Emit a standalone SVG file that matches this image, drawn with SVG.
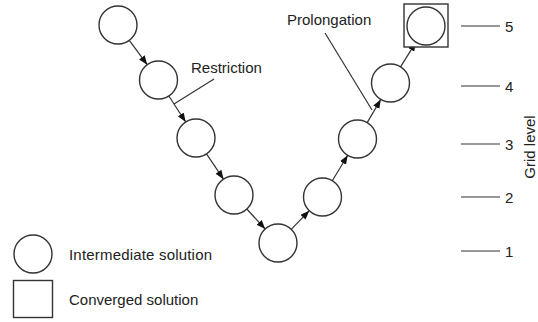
<svg xmlns="http://www.w3.org/2000/svg" width="538" height="322" viewBox="0 0 538 322">
<style>
.n{fill:#fff;stroke:#333;stroke-width:1.4}
.c{stroke:#333;stroke-width:1.2;fill:none}
.a{marker-end:url(#ah)}
.t{font-family:"Liberation Sans",Arial,sans-serif;font-size:15px;fill:#222}
</style>
<defs>
<marker id="ah" markerUnits="userSpaceOnUse" markerWidth="10" markerHeight="8" refX="9" refY="3.5" orient="auto">
<path d="M0,0 L9,3.5 L0,7 z" fill="#111"/>
</marker>
</defs>
<rect width="538" height="322" fill="#fff"/>
<g id="connectors">
<line class="c a" x1="129.3" y1="40.3" x2="147.2" y2="64.7"/>
<line class="c a" x1="168.8" y1="96" x2="185.7" y2="122"/>
<line class="c a" x1="206.5" y1="153.8" x2="223.5" y2="179.2"/>
<line class="c a" x1="246.8" y1="209" x2="265.2" y2="229"/>
<line class="c a" x1="291.2" y1="229.3" x2="309.3" y2="210.7"/>
<line class="c a" x1="332.3" y1="180.7" x2="347.7" y2="155.3"/>
<line class="c a" x1="367.2" y1="122.6" x2="380.8" y2="99.4"/>
<line class="c a" x1="400.5" y1="66.9" x2="416" y2="42.1"/>
<line class="c" x1="214" y1="79" x2="174" y2="104"/>
<line class="c" x1="325" y1="33" x2="372" y2="110"/>
</g>
<g id="L5"><circle class="n" cx="118" cy="25" r="19"/></g>
<g id="L4"><circle class="n" cx="158.5" cy="80" r="19"/></g>
<g id="L3"><circle class="n" cx="196" cy="138" r="19"/></g>
<g id="L2"><circle class="n" cx="234" cy="195" r="19"/></g>
<g id="L1"><circle class="n" cx="278" cy="243" r="19"/></g>
<g id="R2"><circle class="n" cx="322.5" cy="197" r="19"/></g>
<g id="R3"><circle class="n" cx="357.5" cy="139" r="19"/></g>
<g id="R4"><circle class="n" cx="390.5" cy="83" r="19"/></g>
<g id="R5"><rect class="n" x="404" y="4" width="44" height="43"/><circle class="n" cx="426" cy="26" r="19"/></g>
<g id="restriction-label"><text class="t" x="191" y="73">Restriction</text></g>
<g id="prolongation-label"><text class="t" x="287" y="25">Prolongation</text></g>
<g id="levels">
<line class="c" x1="461" y1="26" x2="500" y2="26"/><text class="t" x="505" y="31.5">5</text>
<line class="c" x1="461" y1="86" x2="500" y2="86"/><text class="t" x="505" y="91.5">4</text>
<line class="c" x1="461" y1="144" x2="500" y2="144"/><text class="t" x="505" y="149.5">3</text>
<line class="c" x1="461" y1="197" x2="500" y2="197"/><text class="t" x="505" y="202.5">2</text>
<line class="c" x1="461" y1="251" x2="500" y2="251"/><text class="t" x="505" y="256.5">1</text>
<text class="t" transform="translate(535,147) rotate(-90)" text-anchor="middle">Grid level</text>
</g>
<g id="legend-intermediate"><circle class="n" cx="33" cy="254" r="19"/><text class="t" x="69" y="259.5" textLength="143">Intermediate solution</text></g>
<g id="legend-converged"><rect class="n" x="13.5" y="280.5" width="39" height="37"/><text class="t" x="69" y="305">Converged solution</text></g>
</svg>
